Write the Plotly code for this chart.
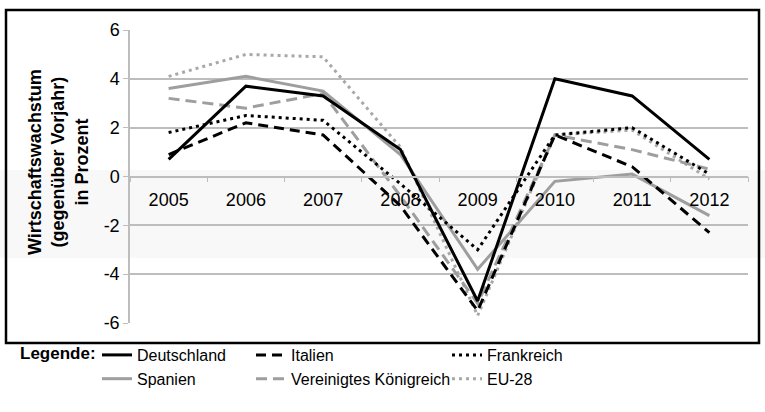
import plotly.graph_objects as go

# Jahre und Wachstumsraten (in Prozent)
years = ["2005", "2006", "2007", "2008", "2009", "2010", "2011", "2012"]
deutschland = [0.7, 3.7, 3.3, 1.1, -5.1, 4.0, 3.3, 0.7]
italien = [0.9, 2.2, 1.7, -1.2, -5.5, 1.7, 0.4, -2.3]
frankreich = [1.8, 2.5, 2.3, -0.3, -3.0, 1.7, 2.0, 0.1]
spanien = [3.6, 4.1, 3.5, 0.9, -3.8, -0.2, 0.1, -1.6]
vereinigtes_koenigreich = [3.2, 2.8, 3.4, -0.8, -5.2, 1.7, 1.1, 0.3]
eu28 = [4.1, 5.0, 4.9, 1.2, -5.7, 1.7, 1.9, -0.1]

y_tickvals = [-6, -4, -2, 0, 2, 4, 6]
y_ticktext = ["-6", "-4", "-2", "0", "2", "4", "6"]

W, H = 765, 412
ML, MR, MT, MB = 130, 17, 30, 89
PW, PH = W - ML - MR, H - MT - MB

def px_x(x):
    return (x - ML) / PW

def px_y(y):
    return (H - MB - y) / PH

FONT = "Liberation Sans, Arial, sans-serif"
FS = 18        # Achsen und Achsentitel
FS_LEG = 16    # Legende
GRID = "#bdbdbd"
GRAY = "#9e9e9e"
GRAY_LIGHT = "#a8a8a8"

series = [
    ("EU-28", eu28, GRAY_LIGHT, "3px,4px", "legend3"),
    ("Vereinigtes Königreich", vereinigtes_koenigreich, GRAY, "11px,6px", "legend2"),
    ("Spanien", spanien, GRAY, "solid", "legend"),
    ("Frankreich", frankreich, "#000000", "3px,4px", "legend3"),
    ("Italien", italien, "#000000", "10px,6px", "legend2"),
    ("Deutschland", deutschland, "#000000", "solid", "legend"),
]
legend_rank = {"Deutschland": 1, "Spanien": 2, "Italien": 1,
               "Vereinigtes Königreich": 2, "Frankreich": 1, "EU-28": 2}

fig = go.Figure()
for name, vals, color, dash, leg in series:
    fig.add_trace(go.Scatter(
        x=years, y=vals, name=name, mode="lines",
        line=dict(color=color, width=3, dash=dash),
        legend=leg, legendrank=legend_rank[name],
    ))

legend_common = dict(
    orientation="v", xanchor="left", yanchor="top",
    font=dict(family=FONT, size=FS_LEG, color="#000000"),
    bgcolor="rgba(0,0,0,0)", borderwidth=0, itemwidth=30,
    tracegroupgap=0, traceorder="normal",
)
legend_top = px_y(338)

fig.update_layout(
    width=W, height=H,
    margin=dict(l=ML, r=MR, t=MT, b=MB),
    paper_bgcolor="#ffffff",
    plot_bgcolor="rgba(0,0,0,0)",
    font=dict(family=FONT, size=FS, color="#000000"),
    showlegend=True,
    legend=dict(x=px_x(97), y=legend_top, **legend_common),
    legend2=dict(x=px_x(251), y=legend_top, **legend_common),
    legend3=dict(x=px_x(447), y=legend_top, **legend_common),
    xaxis=dict(
        type="category", range=[-0.5, len(years) - 0.5],
        anchor="free", position=0.5,
        showline=True, linecolor=GRID, linewidth=1.5,
        ticks="outside", tickson="boundaries", ticklen=5, tickcolor=GRID,
        showgrid=False, ticklabelstandoff=7,
        tickfont=dict(family=FONT, size=FS, color="#000000"),
    ),
    yaxis=dict(
        range=[-6, 6], tickvals=y_tickvals, ticktext=y_ticktext,
        showline=True, linecolor=GRID, linewidth=1.5,
        ticks="outside", ticklen=5, tickcolor=GRID,
        showgrid=True, gridcolor=GRID, gridwidth=1.5, zeroline=False,
        tickfont=dict(family=FONT, size=FS, color="#000000"),
    ),
    shapes=[
        # heller Hintergrundstreifen
        dict(type="rect", xref="paper", yref="paper", layer="below",
             x0=px_x(0), x1=px_x(W), y0=px_y(258), y1=px_y(170),
             fillcolor="#f8f8f8", line=dict(width=0)),
        # Rahmen um das Diagramm
        dict(type="rect", xref="paper", yref="paper", layer="above",
             x0=px_x(6), x1=px_x(759), y0=px_y(343), y1=px_y(10),
             fillcolor="rgba(0,0,0,0)", line=dict(color="#000000", width=2.5)),
    ],
    annotations=[
        dict(text="<b>Wirtschaftswachstum<br>(gegenüber Vorjahr)<br>in Prozent</b>",
             xref="paper", yref="paper", x=px_x(58), y=px_y(162),
             xanchor="center", yanchor="middle", textangle=-90,
             showarrow=False, font=dict(family=FONT, size=FS, color="#000000")),
        dict(text="<b>Legende:</b>",
             xref="paper", yref="paper", x=px_x(18), y=px_y(353),
             xanchor="left", yanchor="middle",
             showarrow=False, font=dict(family=FONT, size=FS - 1, color="#000000")),
    ],
)

fig.write_html("out.html")
